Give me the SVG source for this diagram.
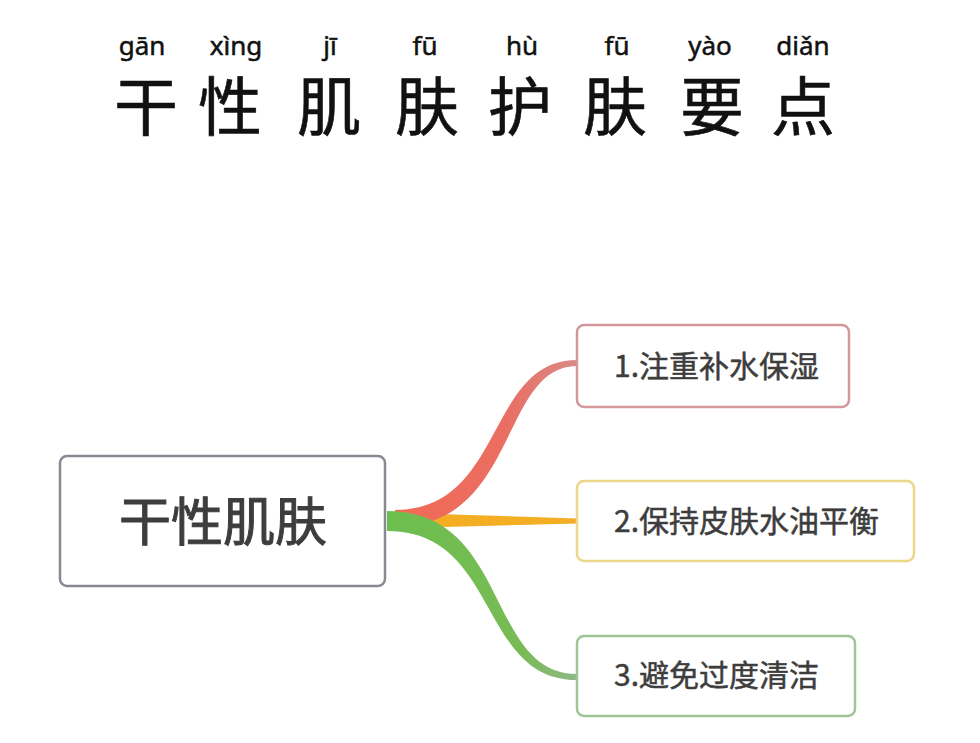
<svg xmlns="http://www.w3.org/2000/svg" width="980" height="743" viewBox="0 0 980 743">
<style>
.py{font-family:"Noto Sans","DejaVu Sans",sans-serif;font-size:26px;fill:#111;stroke:#111;stroke-width:0.5;text-anchor:middle}
.tt{font-family:"Noto Sans CJK SC","Noto Sans",sans-serif;font-size:64px;fill:#111;stroke:#111;stroke-width:0.6;text-anchor:middle}
.box{fill:#fff;stroke-width:2.5}
.lbl{font-family:"Noto Sans CJK SC","Noto Sans",sans-serif;font-size:30px;fill:#3d3d3d;stroke:#3d3d3d;stroke-width:0.5}
.root{font-family:"Noto Sans CJK SC","Noto Sans",sans-serif;font-size:52px;fill:#3d3d3d;stroke:#3d3d3d;stroke-width:1;text-anchor:middle}
</style>
<defs>
<linearGradient id="gr" x1="395" y1="0" x2="577" y2="0" gradientUnits="userSpaceOnUse">
<stop offset="0" stop-color="#f26a55"/><stop offset="0.6" stop-color="#ea6e62"/><stop offset="1" stop-color="#d98a88"/>
</linearGradient>
<linearGradient id="gg" x1="387" y1="0" x2="577" y2="0" gradientUnits="userSpaceOnUse">
<stop offset="0" stop-color="#6cbe4e"/><stop offset="0.7" stop-color="#78bb55"/><stop offset="1" stop-color="#8fb886"/>
</linearGradient>
</defs>
<rect width="980" height="743" fill="#fff"/>
<g id="title">
<text class="py" x="142" y="55">gān</text>
<text class="py" x="236" y="55">xìng</text>
<text class="py" x="330" y="55">jī</text>
<text class="py" x="425" y="55">fū</text>
<text class="py" x="522" y="55">hù</text>
<text class="py" x="617" y="55">fū</text>
<text class="py" x="710" y="55">yào</text>
<text class="py" x="803" y="55">diǎn</text>
<text class="tt" x="146" y="130">干</text>
<text class="tt" x="230" y="130">性</text>
<text class="tt" x="329" y="130">肌</text>
<text class="tt" x="427" y="130">肤</text>
<text class="tt" x="520" y="130">护</text>
<text class="tt" x="615" y="130">肤</text>
<text class="tt" x="712" y="130">要</text>
<text class="tt" x="803" y="130">点</text>
</g>
<g id="connectors">
<path d="M405,513 L577,518.5 L577,523.5 L405,528 Z" fill="#f4ae24"/>
<path d="M395,510 C505,510 486,360 577,360 L577,366 C500,366 518,527 395,527 Z" fill="url(#gr)"/>
<path d="M387,511 C510,511 486,674 577,674 L577,680 C478,680 500,531 387,531 Z" fill="url(#gg)"/>
</g>
<g id="root">
<rect class="box" x="60" y="456" width="325" height="130" rx="7" stroke="#878a92" stroke-width="3.5"/>
<text class="root" x="223" y="541">干性肌肤</text>
</g>
<g id="n1">
<rect class="box" x="577" y="325" width="272" height="82" rx="7" stroke="#d2969b"/>
<text class="lbl" x="614" y="377">1.注重补水保湿</text>
</g>
<g id="n2">
<rect class="box" x="577" y="481" width="337" height="80" rx="7" stroke="#ebd68a"/>
<text class="lbl" x="614" y="532">2.保持皮肤水油平衡</text>
</g>
<g id="n3">
<rect class="box" x="577" y="636" width="278" height="80" rx="7" stroke="#9ec596"/>
<text class="lbl" x="614" y="686">3.避免过度清洁</text>
</g>
</svg>
